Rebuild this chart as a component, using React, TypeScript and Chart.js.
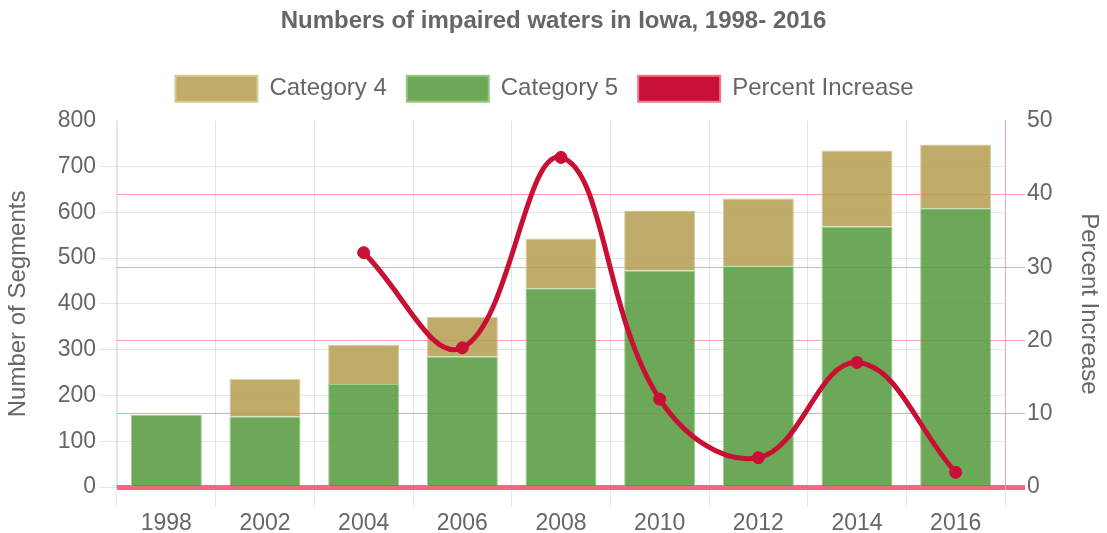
import React, { useEffect, useRef } from "react";
import { Chart, registerables } from "chart.js";

Chart.register(...registerables);

const years = ["1998", "2002", "2004", "2006", "2008", "2010", "2012", "2014", "2016"];
const category4 = [0, 82, 86, 87, 109, 131, 148, 166, 139];
const category5 = [158, 154, 225, 285, 434, 473, 482, 569, 609];
const percentIncrease: (number | null)[] = [null, null, 32, 19, 45, 12, 4, 17, 2];

const titleText = "Numbers of impaired waters in Iowa, 1998- 2016";
const leftAxisTitle = "Number of Segments";
const rightAxisTitle = "Percent Increase";

const FONT = "'Liberation Sans', Arial, Helvetica, sans-serif";
const GRAY = "#666";

const legendPatch = {
  id: "legendPatch",
  beforeLayout(chart: any) {
    const lg = chart.legend;
    if (lg && !lg._patched) {
      const orig = lg.fit.bind(lg);
      lg.fit = function () {
        orig();
        this.height = 65;
      };
      lg._patched = true;
    }
  },
  afterLayout(chart: any) {
    const lg = chart.legend;
    if (lg) {
      lg.left -= 9;
      lg.right -= 9;
    }
  },
};

export default function App() {
  const ref = useRef<HTMLCanvasElement | null>(null);

  useEffect(() => {
    document.body.style.margin = "0";
    if (!ref.current) return;
    Chart.defaults.font.family = FONT;
    Chart.defaults.color = GRAY;
    const chart = new Chart(ref.current, {
      type: "bar",
      data: {
        labels: years,
        datasets: [
          {
            type: "bar",
            label: "Category 4",
            data: category4,
            backgroundColor: "rgba(181,157,80,0.85)",
            borderColor: "rgba(215,200,150,0.9)",
            borderWidth: 1,
            order: 2,
            yAxisID: "y",
          },
          {
            type: "bar",
            label: "Category 5",
            data: category5,
            backgroundColor: "rgba(84,153,59,0.85)",
            borderColor: "rgba(150,200,130,0.9)",
            borderWidth: 1,
            order: 1,
            yAxisID: "y",
          },
          {
            type: "line",
            label: "Percent Increase",
            data: percentIncrease as any,
            borderColor: "rgb(200,16,52)",
            backgroundColor: "rgb(200,16,52)",
            borderWidth: 5,
            pointRadius: 6,
            pointBorderWidth: 1,
            pointBackgroundColor: "rgb(200,16,52)",
            pointBorderColor: "rgb(200,16,52)",
            tension: 0.4,
            fill: false,
            order: 0,
            yAxisID: "y1",
          } as any,
        ],
      },
      options: {
        responsive: false,
        animation: false,
        layout: { padding: 0 },
        plugins: {
          title: {
            display: true,
            text: titleText,
            color: GRAY,
            font: { size: 24, weight: "bold", family: FONT },
            padding: { top: 7, bottom: 20 },
          },
          legend: {
            display: true,
            labels: {
              boxWidth: 82,
              boxHeight: 26,
              padding: 20,
              color: GRAY,
              font: { size: 24, family: FONT },
              sort: (a: any, b: any) => a.datasetIndex - b.datasetIndex,
              generateLabels: (c: any) => {
                const items = (Chart.defaults.plugins.legend.labels as any).generateLabels(c);
                const strokes = ["rgba(215,200,150,1)", "rgba(150,200,130,1)", "rgba(240,120,140,1)"];
                return items.map((it: any) => ({
                  ...it,
                  lineWidth: 2,
                  strokeStyle: strokes[it.datasetIndex],
                }));
              },
            },
          },
          tooltip: { enabled: false },
        },
        scales: {
          x: {
            stacked: true,
            offset: true,
            grid: {
              offset: true,
              color: "rgba(0,0,0,0.1)",
              tickLength: 20,
            },
            border: { display: false },
            ticks: { color: GRAY, font: { size: 23, family: FONT }, padding: 3 },
            afterFit: (s: any) => {
              s.height = 46;
            },
          },
          y: {
            stacked: true,
            position: "left",
            min: 0,
            max: 800,
            ticks: { stepSize: 100, color: GRAY, font: { size: 23, family: FONT }, padding: 3 },
            grid: {
              color: (ctx: any) => (ctx.tick && ctx.tick.value === 800 ? "rgba(0,0,0,0)" : "rgba(0,0,0,0.1)"),
              tickLength: 18,
            },
            border: { color: "rgba(0,0,0,0.1)" },
            title: {
              display: true,
              text: leftAxisTitle,
              color: GRAY,
              font: { size: 24, family: FONT },
              padding: 4,
            },
            afterFit: (s: any) => {
              s.width = 117;
            },
          },
          y1: {
            position: "right",
            min: 0,
            max: 50,
            ticks: { stepSize: 10, color: GRAY, font: { size: 23, family: FONT }, padding: 2 },
            grid: {
              color: (ctx: any) => {
                const v = ctx.tick ? ctx.tick.value : null;
                if (v === 50) return "rgba(0,0,0,0)";
                if (v === 0) return "rgb(255,99,132)";
                return "rgb(255,160,180)";
              },
              lineWidth: (ctx: any) => (ctx.tick && ctx.tick.value === 0 ? 5 : 1),
              tickLength: 20,
            },
            border: { color: "rgb(255,160,180)" },
            title: {
              display: true,
              text: rightAxisTitle,
              color: GRAY,
              font: { size: 24, family: FONT },
              padding: 4,
            },
            afterFit: (s: any) => {
              s.width = 102;
            },
          },
        },
      } as any,
      plugins: [legendPatch],
    });
    return () => chart.destroy();
  }, []);

  return (
    <div style={{ width: 1107, height: 533 }}>
      <canvas ref={ref} width={1107} height={533} style={{ display: "block", width: 1107, height: 533 }} />
    </div>
  );
}
